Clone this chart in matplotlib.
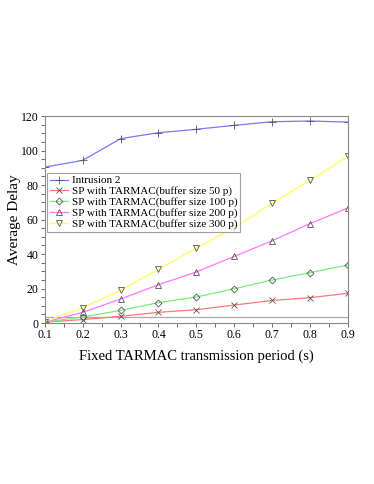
import matplotlib
matplotlib.use('Agg')
import matplotlib.pyplot as plt
from matplotlib.ticker import MultipleLocator

plt.rcParams['font.family'] = ['Liberation Serif', 'DejaVu Serif']

# Transmission period (s)
period = [0.1, 0.2, 0.3, 0.4, 0.5, 0.6, 0.7, 0.8, 0.9]

# Average delay per series
intrusion2 = [90.4, 94.3, 106.9, 110.3, 112.3, 114.6, 116.7, 117.1, 116.5]
buf50 = [0.5, 2.0, 3.9, 6.2, 7.7, 10.4, 13.1, 14.7, 17.2]
buf100 = [0.5, 3.5, 7.3, 11.8, 15.1, 19.9, 24.9, 29.2, 33.6]
buf200 = [0.5, 6.2, 13.9, 22.2, 29.6, 38.6, 47.7, 57.6, 66.7]
buf300 = [0.8, 8.9, 18.9, 31.1, 43.5, 55.1, 69.6, 82.7, 96.6]
baseline = [3.3] * len(period)

labels = ['Intrusion 2',
          'SP with TARMAC(buffer size 50 p)',
          'SP with TARMAC(buffer size 100 p)',
          'SP with TARMAC(buffer size 200 p)',
          'SP with TARMAC(buffer size 300 p)']
colors = ['#7777ff', '#ff7777', '#77ee77', '#ff77ff', '#ffff55']
markers = ['+', 'x', 'D', '^', 'v']
sizes = [6, 5, 3.5, 5, 5]

fig = plt.figure(figsize=(3.74, 4.84), dpi=100)
ax = fig.add_axes([0.120, 0.3326, 0.810, 0.4277])

ax.plot(period, baseline, color='#aaaaaa', linewidth=0.9)

series = [intrusion2, buf50, buf100, buf200, buf300]
for ys, lab, c, m, s in zip(series, labels, colors, markers, sizes):
    ax.plot(period, ys, color=c, linewidth=0.9, marker=m, markersize=s,
            markerfacecolor='none', markeredgecolor='#555555',
            markeredgewidth=0.6, label=lab)

ax.set_xlim(0.1, 0.9)
ax.set_ylim(0, 120)
ax.xaxis.set_major_locator(MultipleLocator(0.1))
ax.xaxis.set_minor_locator(MultipleLocator(0.05))
ax.yaxis.set_major_locator(MultipleLocator(20))
ax.yaxis.set_minor_locator(MultipleLocator(5))
ax.tick_params(which='both', direction='out', labelsize=8.5, color='#555555',
               length=3, width=0.6, pad=1.5)

for sp in ax.spines.values():
    sp.set_color('#888888')
    sp.set_linewidth(0.8)

ax.set_xlabel('Fixed TARMAC transmission period (s)', fontsize=10.5, labelpad=6)
ax.set_ylabel('Average Delay', fontsize=11, labelpad=0)

leg = ax.legend(loc='upper left', bbox_to_anchor=(0.007, 0.725), fontsize=8,
                frameon=True, fancybox=False, borderaxespad=0,
                handlelength=1.6, handletextpad=0.4, borderpad=0.25,
                labelspacing=0.08)
leg.get_frame().set_edgecolor('#888888')
leg.get_frame().set_linewidth(0.8)

fig.savefig('out.png', dpi=100)
